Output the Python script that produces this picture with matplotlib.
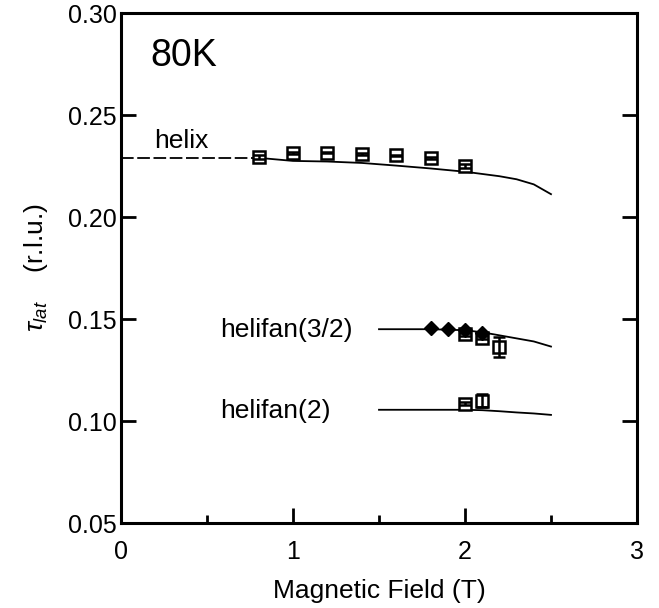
import matplotlib
matplotlib.use("Agg")
import matplotlib.pyplot as plt
from matplotlib.ticker import MultipleLocator, FormatStrFormatter

plt.rcParams['font.family'] = ['Liberation Sans', 'DejaVu Sans']
plt.rcParams['mathtext.fontset'] = 'custom'
plt.rcParams['mathtext.rm'] = 'Liberation Sans'
plt.rcParams['mathtext.it'] = 'Liberation Sans:italic'

# helix calculated line
helix_dash_x = [0.0, 0.8]
helix_dash_y = [0.229, 0.229]
helix_x = [0.8, 1.0, 1.2, 1.4, 1.6, 1.8, 2.0, 2.2, 2.3, 2.4, 2.5]
helix_y = [0.229, 0.2275, 0.2272, 0.2265, 0.2252, 0.2238, 0.2222, 0.2200, 0.2185, 0.2160, 0.2112]

# helix data
hx = [0.8, 1.0, 1.2, 1.4, 1.6, 1.8, 2.0]
hy = [0.2292, 0.2315, 0.2316, 0.2308, 0.2302, 0.2290, 0.2252]
hy_err = [0.0010, 0.0004, 0.0004, 0.0004, 0.0004, 0.0004, 0.0010]

# helifan(3/2) line
h32_x = [1.5, 1.8, 2.0, 2.1, 2.2, 2.3, 2.4, 2.5]
h32_y = [0.145, 0.145, 0.1445, 0.1435, 0.142, 0.1405, 0.139, 0.1365]
# helifan(3/2) filled diamonds
d_x = [1.8, 1.9, 2.0, 2.1]
d_y = [0.1455, 0.1452, 0.1445, 0.1432]
# helifan(3/2) open squares
s32_x = [2.0, 2.1, 2.2]
s32_y = [0.1425, 0.1408, 0.1362]
s32_err = [0.0008, 0.0008, 0.0050]

# helifan(2) line
h2_x = [1.5, 1.8, 2.0, 2.1, 2.2, 2.3, 2.4, 2.5]
h2_y = [0.1055, 0.1055, 0.1055, 0.1053, 0.1048, 0.1042, 0.1037, 0.1030]
# helifan(2) open squares
s2_x = [2.0, 2.1]
s2_y = [0.1085, 0.1100]
s2_err = [0.0008, 0.0030]

fig = plt.figure(figsize=(6.59, 6.08), dpi=100)
ax = fig.add_axes([0.1836, 0.1398, 0.7830, 0.8388])

lw = 1.3
ax.plot(helix_dash_x, helix_dash_y, color='black', lw=lw, ls=(0, (7, 2)))
ax.plot(helix_x, helix_y, color='black', lw=lw)
ax.plot(h32_x, h32_y, color='black', lw=lw)
ax.plot(h2_x, h2_y, color='black', lw=lw)

mk = dict(ls='none', marker='s', mfc='white', mec='black', ms=8.5, mew=1.8, zorder=3)
eb = dict(fmt='none', ecolor='black', elinewidth=1.8, capsize=4, capthick=1.8, zorder=4)
for xs, ys, es in [(hx, hy, hy_err), (s32_x, s32_y, s32_err), (s2_x, s2_y, s2_err)]:
    ax.plot(xs, ys, **mk)
    ax.errorbar(xs, ys, yerr=es, **eb)
ax.plot(d_x, d_y, 'D', color='black', ms=7.5, zorder=5)

ax.set_xlim(0, 3)
ax.set_ylim(0.05, 0.30)
ax.xaxis.set_major_locator(MultipleLocator(1))
ax.xaxis.set_minor_locator(MultipleLocator(0.5))
ax.yaxis.set_major_locator(MultipleLocator(0.05))
ax.yaxis.set_major_formatter(FormatStrFormatter('%.2f'))

ax.tick_params(which='major', direction='in', length=11, width=2, labelsize=18,
               left=True, right=True, top=False, bottom=True, pad=3)
ax.tick_params(which='minor', direction='in', length=6, width=2,
               left=False, right=False, top=False, bottom=True)
ax.tick_params(axis='x', which='major', pad=12)
for s in ax.spines.values():
    s.set_linewidth(2.2)

ax.set_xlabel('Magnetic Field (T)', fontsize=19, labelpad=11)
ax.set_ylabel(r'$\it{\tau}_{\it{lat}}$    (r.l.u.)', fontsize=19, labelpad=13)

ax.text(0.17, 0.279, '80K', fontsize=27, ha='left', va='center')
ax.text(0.195, 0.2375, 'helix', fontsize=19, ha='left', va='center')
ax.text(0.575, 0.1445, 'helifan(3/2)', fontsize=19, ha='left', va='center')
ax.text(0.575, 0.105, 'helifan(2)', fontsize=19, ha='left', va='center')

fig.savefig('out.png', dpi=100)
